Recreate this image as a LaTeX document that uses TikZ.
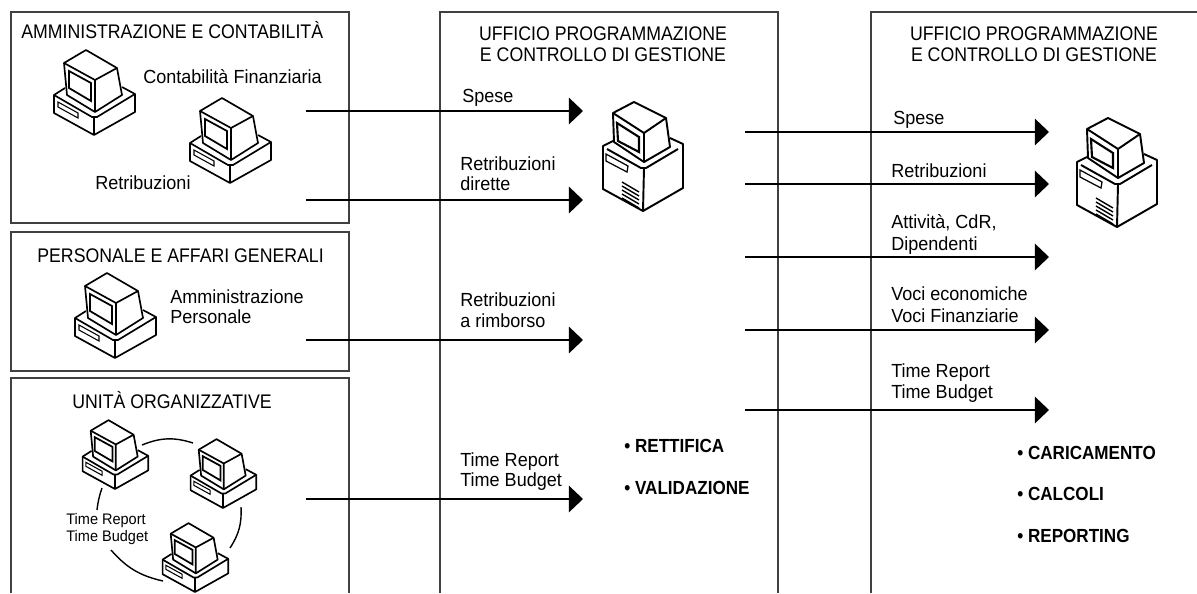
\documentclass[tikz,border=0pt]{standalone}
\usepackage{fontspec}
\setmainfont{Liberation Sans}
\newfontfamily\titlefont[FakeStretch=.9]{Liberation Sans}
\newfontfamily\lblfont[FakeStretch=.95]{Liberation Sans}
\usetikzlibrary{arrows.meta,calc,positioning}
\tikzset{
  box_line/.style={draw=black!75,line width=.6pt},
  flow_arrow/.style={draw,line width=1pt,-{Triangle[length=8pt,width=15pt]}},
  ring_line/.style={draw,line width=.8pt},
  lbl/.style={anchor=base west,inner sep=0pt,font=\lblfont\fontsize{10.8}{12}\selectfont,align=left},
  title/.style={anchor=base west,inner sep=0pt,font=\titlefont\fontsize{11.2}{12}\selectfont},
  small_lbl/.style={anchor=base west,inner sep=0pt,font=\lblfont\fontsize{8.7}{10}\selectfont},
  task/.style={anchor=base west,inner sep=0pt,font=\titlefont\bfseries\fontsize{10.8}{12}\selectfont},
  pics/desk_pc/.style={code={
    \draw[line width=.95pt,line join=round]
      (-29,-47) -- (-40,-40) -- (-40,-22) -- (0,0) -- (41,-23) -- (41,-41) -- (28,-48);
    \draw[line width=.95pt,line join=round] (-40,-40) -- (-2,-18) -- (3,-18) -- (41,-41);
    \draw[line width=.95pt] (0,-18) -- (0,0);
    \draw[line width=.95pt,line join=round]
      (-30,-72) -- (-8,-85) -- (23,-67) -- (28,-40) -- (1,-23) -- (-27,-40) -- cycle;
    \draw[line width=.95pt] (-30,-72) -- (1,-55) -- (23,-67) (1,-55) -- (1,-23);
    \draw[line width=1pt] (-25,-64) -- (-3,-52) -- (-3,-34) -- (-25,-47) -- cycle;
    \draw[line width=.6pt] (-36,-33) -- (-16,-22) -- (-16,-17) -- (-36,-28) -- cycle;
  }},
  pics/tower_pc/.style={code={
    \draw[line width=1.1pt,line join=round]
      (-30,-70) -- (-40,-65) -- (-40,-22) -- (0,0) -- (40,-23) -- (40,-67) -- (27,-73);
    \draw[line width=1.1pt,line join=round] (-36,-62) -- (-2,-43) -- (3,-43) -- (35,-62);
    \draw[line width=1.1pt] (1,-43) -- (0,0);
    \draw[line width=1.1pt,line join=round]
      (-30,-98) -- (-9,-109) -- (23,-93) -- (27,-64) -- (1,-49) -- (-29,-69) -- cycle;
    \draw[line width=1.1pt] (-30,-98) -- (1,-78) -- (23,-93) (1,-78) -- (1,-49);
    \draw[line width=1.2pt] (-26,-88) -- (-4,-74) -- (-4,-59) -- (-25,-70) -- cycle;
    \draw[line width=.7pt] (-37,-57) -- (-15,-45) -- (-16,-39) -- (-37,-50) -- cycle;
    \foreach \a in {0,...,4} {
      \draw[line width=.8pt] (-21,-29+\a*4) -- (-4,-19+\a*4);
    }
  }}
}

\begin{document}
\begin{tikzpicture}[x=.02cm,y=-.02cm]
        \useasboundingbox (0,0) rectangle (1197,593);

        %% left column
        \draw[box_line] (11,12) rectangle (349,223);
        \draw[box_line] (11,232) rectangle (349,371);
        \draw[box_line] (11,593) -- (11,378) -- (349,378) -- (349,593);

        \node [title] (title_admin) at(21,38) {AMMINISTRAZIONE E CONTABILITÀ};
        \node [lbl] (lbl_finanz) at(143,83) {Contabilità Finanziaria};
        \node [lbl] (lbl_retrib) at(95,189) {Retribuzioni};
        \pic (pc_finanz) at(94,135) {desk_pc};
        \pic (pc_retrib) at(230,183) {desk_pc};

        \node [title] (title_pers) at(37,262) {PERSONALE E AFFARI GENERALI};
        \node [lbl] (lbl_pers_1) at(170,303) {Amministrazione};
        \node [lbl] (lbl_pers_2) at(170,323) {Personale};
        \pic (pc_pers) at(115,358) {desk_pc};

        \node [title] (title_unita) at(72,408) {UNITÀ ORGANIZZATIVE};
        \node [small_lbl] (lbl_ring_1) at(66,524) {Time Report};
        \node [small_lbl] (lbl_ring_2) at(66,541) {Time Budget};
        \pic [scale=.81] (pc_ring_1) at(115,489) {desk_pc};
        \pic [scale=.81] (pc_ring_2) at(223,508) {desk_pc};
        \pic [scale=.81] (pc_ring_3) at(195,592) {desk_pc};

        \coordinate (ring_a1) at(142,445);
        \coordinate (ring_a2) at(193,443);
        \coordinate (ring_b1) at(241,507);
        \coordinate (ring_b2) at(230,548);
        \coordinate (ring_c1) at(163,581);
        \coordinate (ring_c2) at(111,550);
        \coordinate (ring_d1) at(97,510);
        \coordinate (ring_d2) at(102,488);
        \draw[ring_line] (ring_a1) to[bend left=20] (ring_a2);
        \draw[ring_line] (ring_b1) to[bend left=18] (ring_b2);
        \draw[ring_line] (ring_c1) to[bend left=18] (ring_c2);
        \draw[ring_line] (ring_d1) to[bend left=6] (ring_d2);

        %% middle column
        \draw[box_line] (440,593) -- (440,12) -- (778,12) -- (778,593);
        \node [title,anchor=base] (title_mid_1) at(603,40) {UFFICIO PROGRAMMAZIONE};
        \node [title,anchor=base] (title_mid_2) at(603,61) {E CONTROLLO DI GESTIONE};
        \pic (pc_mid) at(643,211) {tower_pc};

        \foreach \a/\y in {1/111,2/200,3/340,4/499} {
          \coordinate (in_li\a) at(306,\y);
          \coordinate (mid_li\a) at(583,\y);
          \draw[flow_arrow] (in_li\a) -- (mid_li\a);
        }
        \node [lbl] (lbl_in_1) at($(in_li1)+(156,-9)$) {Spese};
        \node [lbl] (lbl_in_2a) at($(in_li2)+(154,-30)$) {Retribuzioni};
        \node [lbl] (lbl_in_2b) at($(in_li2)+(154,-10)$) {dirette};
        \node [lbl] (lbl_in_3a) at($(in_li3)+(154,-34)$) {Retribuzioni};
        \node [lbl] (lbl_in_3b) at($(in_li3)+(154,-13)$) {a rimborso};
        \node [lbl] (lbl_in_4a) at($(in_li4)+(154,-33)$) {Time Report};
        \node [lbl] (lbl_in_4b) at($(in_li4)+(154,-13)$) {Time Budget};

        \node [task] (task_rett) at(624,452) {\textbullet\ RETTIFICA};
        \node [task] (task_vali) at(624,494) {\textbullet\ VALIDAZIONE};

        %% right column
        \coordinate (right_top) at(1197,12);
        \coordinate (right_bot) at(871,593);
        \draw[box_line] (right_top) -- (871,12) -- (right_bot);
        \node [title,anchor=base] (title_right_1) at(1034,40) {UFFICIO PROGRAMMAZIONE};
        \node [title,anchor=base] (title_right_2) at(1034,61) {E CONTROLLO DI GESTIONE};
        \pic (pc_right) at(1117,227) {tower_pc};

        \foreach \a/\y in {1/132,2/184,3/257,4/330,5/410} {
          \coordinate (out_li\a) at(745,\y);
          \coordinate (end_li\a) at(1049,\y);
          \draw[flow_arrow] (out_li\a) -- (end_li\a);
        }
        \node [lbl] (lbl_out_1) at($(out_li1)+(148,-8)$) {Spese};
        \node [lbl] (lbl_out_2) at($(out_li2)+(146,-7)$) {Retribuzioni};
        \node [lbl] (lbl_out_3a) at($(out_li3)+(146,-29)$) {Attività, CdR,};
        \node [lbl] (lbl_out_3b) at($(out_li3)+(146,-7)$) {Dipendenti};
        \node [lbl] (lbl_out_4a) at($(out_li4)+(146,-30)$) {Voci economiche};
        \node [lbl] (lbl_out_4b) at($(out_li4)+(146,-8)$) {Voci Finanziarie};
        \node [lbl] (lbl_out_5a) at($(out_li5)+(146,-33)$) {Time Report};
        \node [lbl] (lbl_out_5b) at($(out_li5)+(146,-12)$) {Time Budget};

        \node [task] (task_cari) at(1017,459) {\textbullet\ CARICAMENTO};
        \node [task] (task_calc) at(1017,500) {\textbullet\ CALCOLI};
        \node [task] (task_repo) at(1017,542) {\textbullet\ REPORTING};

      \end{tikzpicture}
\end{document}
